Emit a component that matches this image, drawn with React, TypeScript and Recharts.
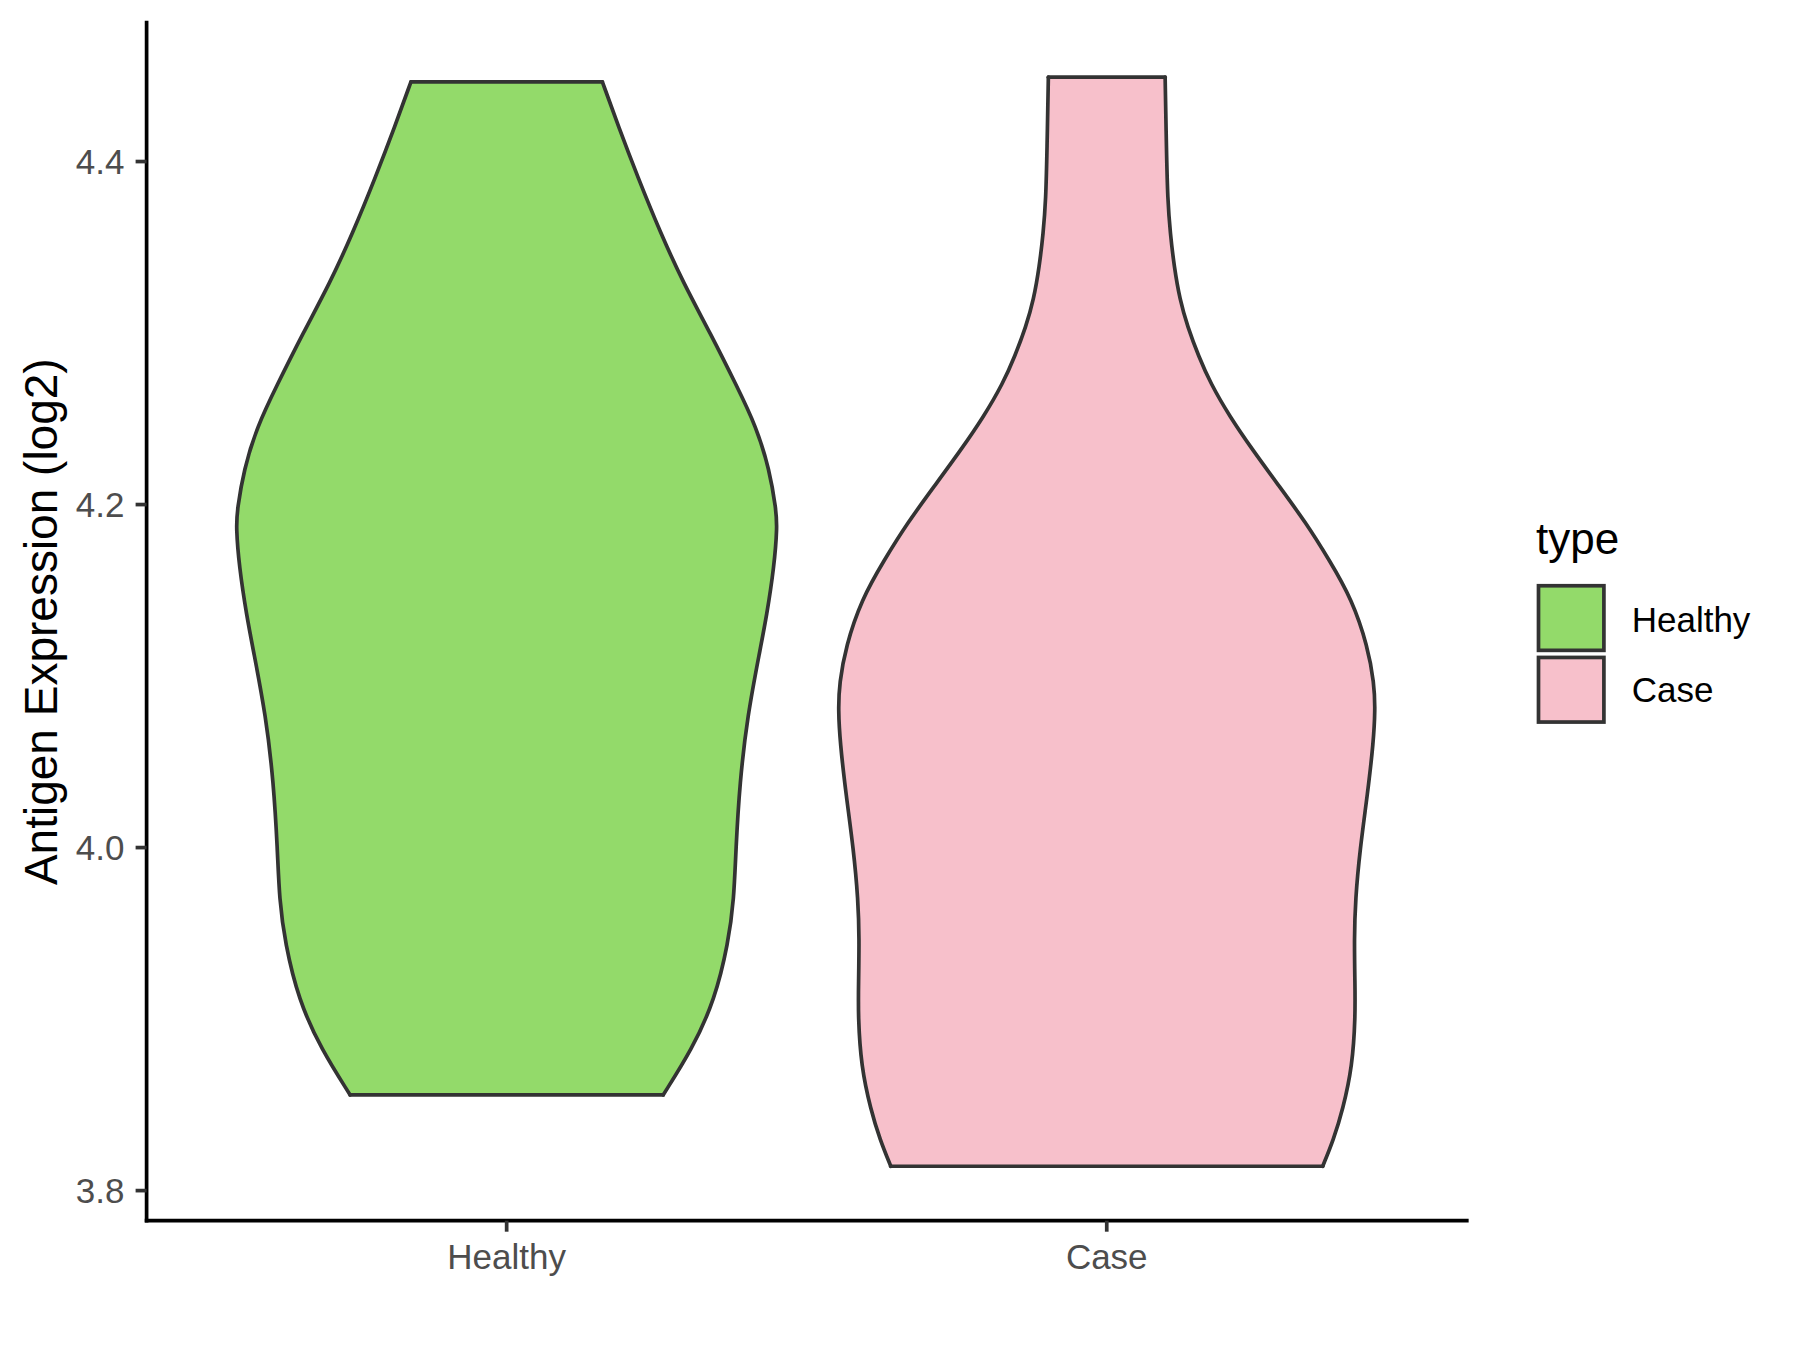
import React from 'react';
import { ComposedChart, Area, XAxis, YAxis, ReferenceLine, Legend, Label } from 'recharts';

// ---- data ----
const categories = ['Healthy', 'Case'];
const categoryPositions = [1, 2];
const fillColors = ['#93DA6A', '#F7C0CB'];
const yTicks = [3.8, 4.0, 4.2, 4.4];
const yDomain = [3.78245, 4.48095];
const xDomain = [0.4, 2.6];

// Healthy violin: expression level vs half-width (in category units)
const healthyLevels = [3.8558, 3.8821, 3.9112, 3.9444, 3.9697, 3.9988, 4.0377, 4.0765, 4.1154, 4.1348, 4.1639, 4.1872, 4.1970, 4.2203, 4.2455, 4.2688, 4.3000, 4.3291, 4.3583, 4.3913, 4.4204, 4.4465];
const healthyHalfWidths = [0.2608, 0.3086, 0.3469, 0.3693, 0.3788, 0.3819, 0.3884, 0.4011, 0.4223, 0.4331, 0.4458, 0.4509, 0.4489, 0.4381, 0.4158, 0.3839, 0.3393, 0.2946, 0.2565, 0.2181, 0.1863, 0.1595];

// Case violin
const caseLevels = [3.8142, 3.8297, 3.8472, 3.8725, 3.9016, 3.9211, 3.9464, 3.9697, 3.9988, 4.0318, 4.0610, 4.0804, 4.0959, 4.1173, 4.1446, 4.1678, 4.1892, 4.2106, 4.2319, 4.2514, 4.2708, 4.2863, 4.3038, 4.3194, 4.3388, 4.3583, 4.3777, 4.4068, 4.4492];
const caseHalfWidths = [0.3599, 0.3779, 0.3933, 0.4093, 0.4143, 0.4136, 0.4124, 0.4143, 0.4219, 0.4348, 0.4443, 0.4474, 0.4456, 0.4348, 0.4088, 0.3706, 0.3323, 0.2876, 0.2430, 0.2048, 0.1728, 0.1533, 0.1346, 0.1218, 0.1123, 0.1058, 0.1015, 0.0995, 0.0973];

const allLevels = [healthyLevels, caseLevels];
const allHalfWidths = [healthyHalfWidths, caseHalfWidths];

// ---- styles ----
const FONT = '"Liberation Sans", Arial, Helvetica, sans-serif';
const OUTLINE = '#333333';
const LW = 3.7;

function buildViolin(center: number, levels: number[], halfWidths: number[]) {
  return levels.map((y, i) => ({ y, range: [center - halfWidths[i], center + halfWidths[i]] }));
}

const violins = categories.map((name, i) => ({
  name,
  fill: fillColors[i],
  center: categoryPositions[i],
  data: buildViolin(categoryPositions[i], allLevels[i], allHalfWidths[i]),
}));

const YTitle = (props: any) => {
  const vb = props.viewBox || {};
  const cy = vb.height ? vb.y + vb.height / 2 : 621.7;
  const cx = (vb.x || 0) + 56.6;
  return (
    <text
      x={cx}
      y={cy}
      transform={`rotate(-90 ${cx} ${cy})`}
      textAnchor="middle"
      fontSize={46}
      fontFamily={FONT}
      fill="#000000"
    >
      Antigen Expression (log2)
    </text>
  );
};

const LegendContent = () => (
  <svg width={280} height={240} style={{ display: 'block', overflow: 'visible' }}>
    <text x={16} y={54} fontSize={44} fontFamily={FONT} fill="#000000">type</text>
    {categories.map((name, i) => (
      <g key={name}>
        <rect
          x={18.5}
          y={85.75 + i * 71.7}
          width={65.4}
          height={64.6}
          fill={fillColors[i]}
          stroke={OUTLINE}
          strokeWidth={LW}
        />
        <text x={111.7} y={131.7 + i * 70} fontSize={35} fontFamily={FONT} fill="#000000">
          {name}
        </text>
      </g>
    ))}
  </svg>
);

export default function App() {
  return (
    <div style={{ width: 1800, height: 1350, background: '#ffffff' }}>
      <style>{`body{margin:0;background:#ffffff;}`}</style>
      <ComposedChart
        width={1800}
        height={1350}
        layout="vertical"
        margin={{ top: 22.7, right: 333.2, bottom: 29.3, left: 0 }}
      >
        <XAxis
          type="number"
          domain={xDomain}
          allowDataOverflow
          ticks={categoryPositions}
          interval={0}
          tickFormatter={(v: number) => categories[categoryPositions.indexOf(v)]}
          height={100}
          axisLine={{ stroke: '#000000', strokeWidth: LW, strokeLinecap: 'square' }}
          tickLine={{ stroke: OUTLINE, strokeWidth: LW }}
          tickSize={11}
          tickMargin={12.6}
          tick={{ fill: '#4D4D4D', fontSize: 35, fontFamily: FONT }}
        />
        <YAxis
          type="number"
          dataKey="y"
          domain={yDomain}
          allowDataOverflow
          reversed
          ticks={yTicks}
          interval={0}
          tickFormatter={(v: number) => v.toFixed(1)}
          width={146.6}
          axisLine={{ stroke: '#000000', strokeWidth: LW, strokeLinecap: 'square' }}
          tickLine={{ stroke: OUTLINE, strokeWidth: LW }}
          tickSize={11}
          tickMargin={11.2}
          tick={{ fill: '#4D4D4D', fontSize: 35, fontFamily: FONT }}
          label={<Label content={YTitle} />}
        />
        {violins.map((v) => (
          <Area
            key={v.name}
            name={v.name}
            data={v.data}
            dataKey="range"
            type="basis"
            fill={v.fill}
            fillOpacity={1}
            stroke={OUTLINE}
            strokeWidth={LW}
            strokeLinecap="round"
            isAnimationActive={false}
            dot={false}
            activeDot={false}
          />
        ))}
        {violins.map((v) => {
          const first = v.data[0];
          const last = v.data[v.data.length - 1];
          return (
            <React.Fragment key={`edges-${v.name}`}>
              <ReferenceLine
                segment={[{ x: first.range[0], y: first.y }, { x: first.range[1], y: first.y }]}
                stroke={OUTLINE}
                strokeWidth={LW}
                strokeLinecap="round"
                ifOverflow="visible"
              />
              <ReferenceLine
                segment={[{ x: last.range[0], y: last.y }, { x: last.range[1], y: last.y }]}
                stroke={OUTLINE}
                strokeWidth={LW}
                strokeLinecap="round"
                ifOverflow="visible"
              />
            </React.Fragment>
          );
        })}
        <Legend
          layout="horizontal"
          verticalAlign="middle"
          align="center"
          wrapperStyle={{ position: 'absolute', left: 1520, top: 500, width: 280, height: 240 }}
          content={LegendContent}
        />
      </ComposedChart>
    </div>
  );
}
